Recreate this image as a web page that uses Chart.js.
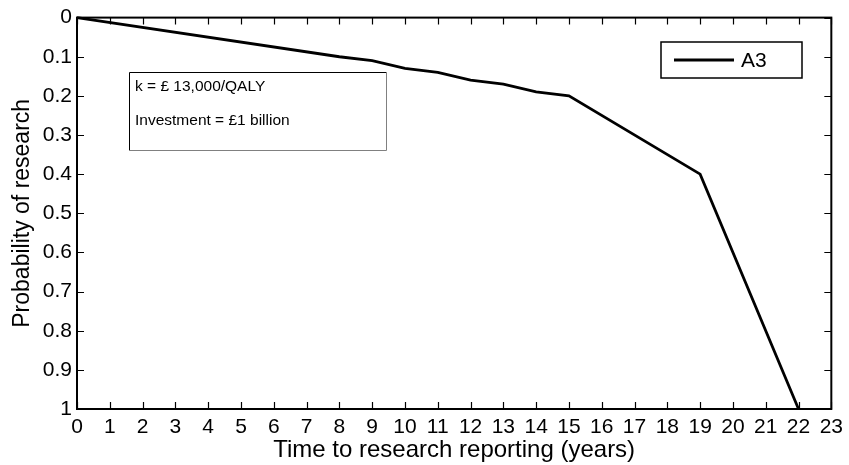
<!DOCTYPE html>
<html>
<head>
<meta charset="utf-8">
<script src="https://cdn.jsdelivr.net/npm/chart.js@4.4.0/dist/chart.umd.min.js"></script>
<style>
  html, body { margin: 0; padding: 0; background: #fff; }
  #wrap { width: 849px; height: 465px; }
</style>
</head>
<body>
<div id="wrap"><canvas id="chart" width="849" height="465"></canvas></div>
<script>
// values
const years = [0, 8, 9, 10, 11, 12, 13, 14, 15, 19, 22]
const probA3 = [0, 0.10, 0.11, 0.13, 0.14, 0.16, 0.17, 0.19, 0.20, 0.40, 1.0]
const seriesLabel = 'A3'
const noteLines = ['k = £ 13,000/QALY', 'Investment = £1 billion']
const xTitle = 'Time to research reporting (years)'
const yTitle = 'Probability of research'

const FONT = '"Liberation Sans", Arial, Helvetica, sans-serif'

// frame, inward ticks, note box and legend box
const decorations = {
  id: 'decorations',
  afterDatasetsDraw(chart) {
    const ctx = chart.ctx
    const a = chart.chartArea
    const xs = chart.scales.x, ys = chart.scales.y
    ctx.save()
    ctx.strokeStyle = '#000'
    ctx.lineWidth = 1.2
    const tl = 7
    ctx.beginPath()
    xs.ticks.forEach(t => {
      const px = Math.round(xs.getPixelForValue(t.value)) + 0.5
      ctx.moveTo(px, a.bottom); ctx.lineTo(px, a.bottom - tl)
      ctx.moveTo(px, a.top); ctx.lineTo(px, a.top + tl)
    })
    ys.ticks.forEach(t => {
      const py = Math.round(ys.getPixelForValue(t.value)) + 0.5
      ctx.moveTo(a.left, py); ctx.lineTo(a.left + tl, py)
      ctx.moveTo(a.right, py); ctx.lineTo(a.right - tl, py)
    })
    ctx.stroke()
    ctx.lineWidth = 2
    ctx.strokeRect(a.left, a.top, a.right - a.left, a.bottom - a.top)

    // note box
    const bx = 129, by = 72, bw = 257, bh = 78
    ctx.fillStyle = '#fff'
    ctx.fillRect(bx, by, bw, bh)
    ctx.lineWidth = 1
    ctx.strokeStyle = '#000'
    ctx.beginPath()
    ctx.moveTo(bx + 0.5, by + bh + 0.5); ctx.lineTo(bx + 0.5, by + 0.5); ctx.lineTo(bx + bw + 0.5, by + 0.5)
    ctx.stroke()
    ctx.strokeStyle = '#808080'
    ctx.beginPath()
    ctx.moveTo(bx + bw + 0.5, by + 0.5); ctx.lineTo(bx + bw + 0.5, by + bh + 0.5); ctx.lineTo(bx + 0.5, by + bh + 0.5)
    ctx.stroke()
    ctx.fillStyle = '#000'
    ctx.font = '15.5px ' + FONT
    ctx.textBaseline = 'alphabetic'
    ctx.textAlign = 'left'
    ctx.fillText(noteLines[0], bx + 6, by + 19)
    ctx.fillText(noteLines[1], bx + 6, by + 53)

    // legend box
    const lx = 661, ly = 42, lw = 141, lh = 36
    ctx.fillStyle = '#fff'
    ctx.fillRect(lx, ly, lw, lh)
    ctx.strokeStyle = '#000'
    ctx.lineWidth = 1.5
    ctx.strokeRect(lx, ly, lw, lh)
    ctx.lineWidth = 2.8
    ctx.beginPath()
    ctx.moveTo(674, ly + lh / 2); ctx.lineTo(734, ly + lh / 2)
    ctx.stroke()
    ctx.fillStyle = '#000'
    ctx.font = '21px ' + FONT
    ctx.textBaseline = 'middle'
    ctx.fillText(seriesLabel, 741, ly + lh / 2 + 1)
    ctx.restore()
  }
}

new Chart(document.getElementById('chart'), {
  type: 'line',
  data: {
    datasets: [{
      label: seriesLabel,
      data: years.map((x, i) => ({ x: x, y: probA3[i] })),
      borderColor: '#000',
      borderWidth: 2.8,
      pointRadius: 0,
      tension: 0,
      clip: false
    }]
  },
  options: {
    responsive: false,
    animation: false,
    layout: { padding: { top: 16, right: 15, left: 0, bottom: 0 } },
    plugins: { legend: { display: false }, tooltip: { enabled: false } },
    scales: {
      x: {
        type: 'linear',
        min: 0, max: 23,
        grid: { display: false, drawTicks: false },
        border: { display: false },
        ticks: { stepSize: 1, color: '#000', padding: 6, maxRotation: 0, autoSkip: false, font: { family: FONT, size: 21 } },
        title: { display: true, text: xTitle, color: '#000', padding: { top: 0, bottom: 0 }, font: { family: FONT, size: 24 } },
        afterFit(s) { s.height = 56 }
      },
      y: {
        type: 'linear',
        reverse: true,
        min: 0, max: 1,
        grid: { display: false, drawTicks: false },
        border: { display: false },
        ticks: {
          stepSize: 0.1, color: '#000', padding: 5, autoSkip: false,
          font: { family: FONT, size: 21 },
          callback: v => String(Number(v.toFixed(1)))
        },
        title: { display: true, text: yTitle, color: '#000', padding: { top: 9, bottom: 0 }, font: { family: FONT, size: 23 } },
        afterFit(s) { s.width = 77 }
      }
    }
  },
  plugins: [decorations]
})
</script>
</body>
</html>
